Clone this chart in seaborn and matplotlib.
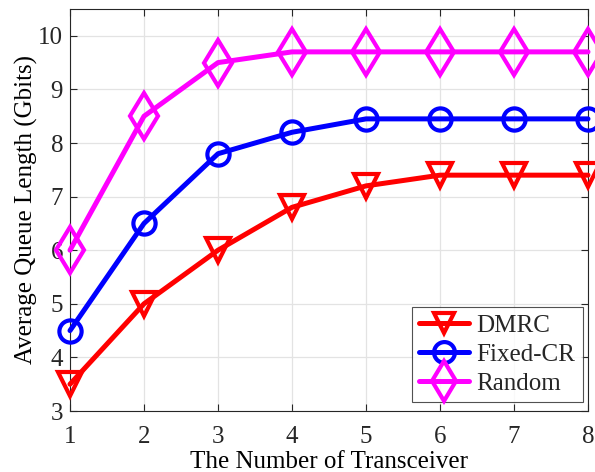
import matplotlib
matplotlib.use("Agg")
import matplotlib.pyplot as plt
import seaborn as sns
import pandas as pd

transceivers = [1, 2, 3, 4, 5, 6, 7, 8]
dmrc = [3.5, 5.0, 6.0, 6.8, 7.2, 7.4, 7.4, 7.4]
fixed_cr = [4.5, 6.5, 7.8, 8.2, 8.45, 8.45, 8.45, 8.45]
random_sel = [6.0, 8.5, 9.5, 9.7, 9.7, 9.7, 9.7, 9.7]
schemes = ["DMRC", "Fixed-CR", "Random"]

df = pd.DataFrame({
    "n": transceivers * 3,
    "q": dmrc + fixed_cr + random_sel,
    "scheme": [s for s in schemes for _ in transceivers],
})

sns.set_style("whitegrid")
plt.rcParams["font.family"] = ["Liberation Serif", "DejaVu Serif"]

fig = plt.figure(figsize=(5.95, 4.72), dpi=100)
ax = fig.add_axes([70 / 595, 1 - 411 / 472, 518 / 595, 402 / 472])

palette = {"DMRC": "#ff0000", "Fixed-CR": "#0000ff", "Random": "#ff00ff"}
markers = {"DMRC": "v", "Fixed-CR": "o", "Random": "d"}
sizes = {"v": 17, "o": 16, "d": 23}


def style_marker(line):
    # hollow markers outlined in the line colour
    c = line.get_color()
    line.set_markerfacecolor("none")
    line.set_markeredgecolor(c)
    line.set_markeredgewidth(3.0)
    line.set_linewidth(3.6)
    m = line.get_marker()
    if m in sizes:
        line.set_markersize(sizes[m])


sns.lineplot(data=df, x="n", y="q", hue="scheme", style="scheme",
             palette=palette, markers=markers, dashes=False,
             ax=ax, clip_on=False, zorder=3)
for line in ax.get_lines():
    style_marker(line)

ax.set_xlim(1, 8)
ax.set_ylim(3, 10.5)
ax.set_xticks(transceivers)
ax.set_yticks([3, 4, 5, 6, 7, 8, 9, 10])
ax.grid(True, color="#e3e3e3", linewidth=0.9)
for s in ax.spines.values():
    s.set_color("#262626")
    s.set_linewidth(0.8)
ax.tick_params(direction="in", length=5, width=0.8, color="#262626",
               labelsize=18, labelcolor="#262626", top=True, right=True,
               left=True, bottom=True)
ax.tick_params(axis="y", pad=5)
ax.tick_params(axis="x", pad=11)

ax.set_xlabel("The Number of Transceiver", fontsize=18, color="#000000", labelpad=2)
ax.set_ylabel("Average Queue Length (Gbits)", fontsize=18, color="#000000", labelpad=0)

handles, labels = ax.get_legend_handles_labels()
for h in handles:
    style_marker(h)
    if h.get_marker() == "d":
        h.set_markersize(20)
    else:
        h.set_markersize(15)
leg = ax.legend(handles, labels, loc="lower right", fontsize=18,
                frameon=True, fancybox=False, edgecolor="#262626",
                handlelength=2.0, borderpad=0.3, labelspacing=0.25,
                handletextpad=0.3, borderaxespad=0,
                bbox_to_anchor=(513 / 518, 9 / 402))
leg.get_frame().set_linewidth(0.8)

fig.savefig("out.png", dpi=100)
